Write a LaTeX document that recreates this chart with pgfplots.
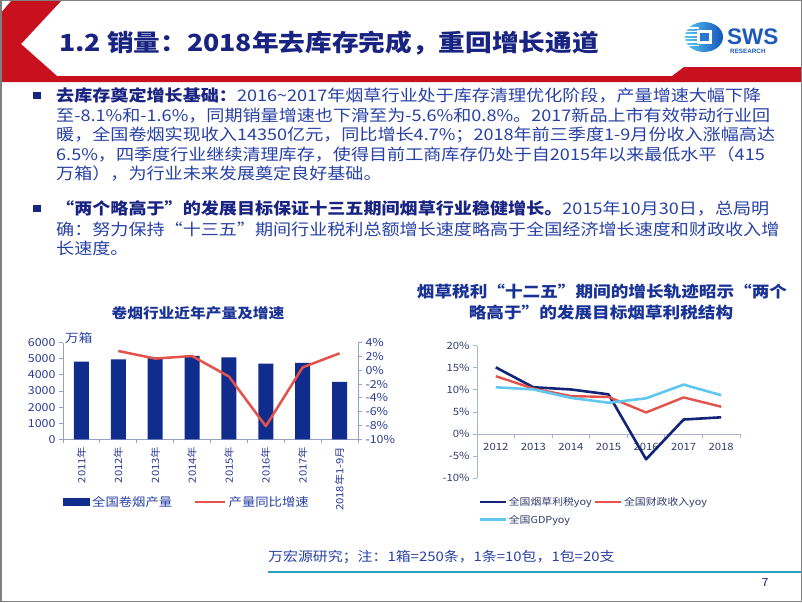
\documentclass[border=0pt]{standalone}
\usepackage{pgfplots}
\pgfplotsset{compat=1.18}
\usepackage{fontspec}
\setmainfont{Noto Sans CJK SC}[FakeStretch=1.13]
\newfontfamily\logofont{Liberation Sans}
\definecolor{navy}{RGB}{25,35,130}
\definecolor{bodyblue}{RGB}{40,65,165}
\definecolor{titleblue}{RGB}{25,50,150}
\definecolor{barnavy}{RGB}{16,44,140}
\definecolor{linered}{RGB}{228,82,76}
\definecolor{lightblue}{RGB}{96,200,240}
\definecolor{darknavy}{RGB}{18,36,120}
\definecolor{axisgray}{RGB}{150,162,200}
\definecolor{axisgrayR}{RGB}{170,180,210}
\definecolor{ticktext}{RGB}{45,60,150}
\definecolor{ticktextR}{RGB}{50,60,110}
\definecolor{headred}{RGB}{200,16,30}
\definecolor{footcyan}{RGB}{40,160,200}
\definecolor{logoblue}{RGB}{30,90,185}
\definecolor{logocyan}{RGB}{90,200,245}
\definecolor{logodark}{RGB}{20,85,185}
\definecolor{logomid}{RGB}{40,120,210}
\pgfplotsset{
  linelegend/.style={legend image code/.code={\draw[##1] (0pt,0pt) -- (#1,0pt);}},
  barlegend/.style={legend image code/.code={\fill[barnavy] (0pt,-4pt) rectangle (27pt,4pt);}},
}
\begin{document}
\begin{tikzpicture}
\begin{scope}[x=1pt,y=-1pt]
\useasboundingbox (0,0) rectangle (802,602);
\fill[white] (0,0) rectangle (802,602);
% header
\fill[headred] (12,0) -- (62,0) -- (21,44) -- (57,76) -- (672,76) -- (684,67) -- (802,67) -- (802,82) -- (0,82) -- (0,14) -- cycle;
\node[anchor=west, inner sep=0, text=navy, font=\fontsize{23.6}{24}\selectfont\bfseries] at (59,43) {1.2 销量：2018年去库存完成，重回增长通道};
% logo
\shade[left color=logocyan, right color=logodark] (704,37) ellipse (19 and 15);
\foreach \yy in {28,31.5,35,38.5,42,45.5} {\draw[white, line width=1.1pt] (685,\yy) -- (699,\yy);}
\fill[white] (697,30) rectangle (712,44);
\fill[logomid] (700,33) rectangle (709,41);
\node[anchor=west, inner sep=0, text=logoblue, font=\logofont\bfseries\fontsize{22.5}{22.5}\selectfont] at (727,37) {SWS};
\node[anchor=west, inner sep=0, text=logoblue, font=\logofont\bfseries\fontsize{6.3}{6.3}\selectfont] at (730,51) {RESEARCH};
% body text
\tikzset{body/.style={anchor=west, inner sep=0, text=bodyblue, font=\fontsize{16}{16}\selectfont}}
\fill[navy] (33,91.5) rectangle (41,98.5);
\fill[navy] (33,205) rectangle (41,212);
\node[body] at (56,95) {{\bfseries\color{navy}去库存奠定增长基础：}2016\textasciitilde2017年烟草行业处于库存清理优化阶段，产量增速大幅下降};
\node[body] at (56,115.5) {至-8.1\%和-1.6\%，同期销量增速也下滑至为-5.6\%和0.8\%。2017新品上市有效带动行业回};
\node[body] at (56,135) {暖，全国卷烟实现收入14350亿元，同比增长4.7\%；2018年前三季度1-9月份收入涨幅高达};
\node[body] at (56,154.5) {6.5\%，四季度行业继续清理库存，使得目前工商库存仍处于自2015年以来最低水平（415};
\node[body] at (56,174) {万箱），为行业未来发展奠定良好基础。};
\node[body] at (56,208.5) {{\bfseries\color{navy}“两个略高于”的发展目标保证十三五期间烟草行业稳健增长。}2015年10月30日，总局明};
\node[body] at (56,229) {确：努力保持“十三五”期间行业税利总额增长速度略高于全国经济增长速度和财政收入增};
\node[body] at (56,248.5) {长速度。};
% chart titles
\node[inner sep=0, text=titleblue, font=\fontsize{13.9}{14}\selectfont\bfseries] at (198,313) {卷烟行业近年产量及增速};
\node[inner sep=0, text=titleblue, font=\fontsize{15.6}{16}\selectfont\bfseries] at (602,292) {烟草税利“十二五”期间的增长轨迹昭示“两个};
\node[inner sep=0, text=titleblue, font=\fontsize{15.6}{16}\selectfont\bfseries] at (601,313) {略高于”的发展目标烟草利税结构};
\node[anchor=west, inner sep=0, text=bodyblue, font=\fontsize{12}{12}\selectfont] at (65,338) {万箱};
% footer
\node[anchor=west, inner sep=0, text=bodyblue, font=\fontsize{13.2}{13.2}\selectfont] at (268,557) {万宏源研究；注：1箱=250条，1条=10包，1包=20支};
\draw[footcyan, line width=2pt] (268,572) -- (802,572);
\node[inner sep=0, text=navy, font=\fontsize{11}{11}\selectfont] at (765,583) {7};
\draw[gray, line width=1.5pt] (0.75,0.75) rectangle (801.25,601.25);
\end{scope}

% left chart: bars
\begin{axis}[
  at={(63pt,-439.3pt)}, anchor=south west,
  scale only axis, width=295pt, height=96.6pt,
  xmin=-0.5, xmax=7.5, ymin=0, ymax=6000,
  ytick={0,1000,...,6000}, scaled y ticks=false,
  xtick={0,...,7},
  xticklabels={2011年,2012年,2013年,2014年,2015年,2016年,2017年,2018年1-9月},
  minor xtick={-0.5,0.5,...,7.5},
  axis y line*=left, axis x line*=bottom,
  axis line style={axisgray, line width=0.9pt, -},
  tick style={axisgray, line width=0.9pt},
  major x tick style={draw=none},
  tick align=outside, major tick length=4pt, minor tick length=4pt,
  tick label style={font=\fontsize{11}{11}\selectfont, text=ticktext},
  xticklabel style={rotate=90, anchor=east, font=\fontsize{10}{10}\selectfont},
  /pgf/number format/assume math mode=true,
  /pgf/number format/1000 sep={},
  legend columns=2, legend cell align=left,
  legend style={at={(0,-0.649)}, anchor=west, draw=none, fill=none, inner sep=0pt,
    font=\fontsize{11.8}{12}\selectfont, text=bodyblue,
    /tikz/every even column/.append style={column sep=20pt}},
]
\addplot[ybar, bar width=15pt, fill=barnavy, draw=none, barlegend] coordinates {
(0,4820) (1,4970) (2,5090) (3,5175) (4,5090) (5,4700) (6,4740) (7,3560)};
\addlegendentry{全国卷烟产量}
\addlegendimage{linered, line width=2.5pt, linelegend=30pt}
\addlegendentry{产量同比增速}
\end{axis}

% left chart: growth line
\begin{axis}[
  at={(63pt,-439.3pt)}, anchor=south west,
  scale only axis, width=295pt, height=96.6pt,
  xmin=-0.5, xmax=7.5, ymin=-10, ymax=4,
  ytick={-10,-8,...,4},
  axis y line*=right, axis x line=none,
  axis line style={axisgray, line width=0.9pt, -},
  tick style={axisgray, line width=0.9pt},
  tick align=outside, major tick length=4pt,
  yticklabel={\pgfmathprintnumber{\tick}\%},
  tick label style={font=\fontsize{11}{11}\selectfont, text=ticktext},
  /pgf/number format/assume math mode=true,
]
\addplot[linered, line width=2.5pt, line join=round] coordinates {
(1,2.8) (2,1.7) (3,2.07) (4,-0.9) (5,-8.1) (6,0.43) (7,2.46)};
\end{axis}

% right chart
\begin{axis}[
  at={(477pt,-478.3pt)}, anchor=south west,
  scale only axis, width=263pt, height=132.6pt,
  xmin=-0.5, xmax=6.5, ymin=-10, ymax=20,
  ytick={-10,-5,...,20},
  xtick={0,...,6},
  xticklabels={2012,2013,2014,2015,2016,2017,2018},
  minor xtick={-0.5,0.5,...,6.5},
  axis y line*=left, axis x line*=middle,
  axis line style={axisgrayR, line width=0.9pt, -},
  tick style={axisgrayR, line width=0.9pt},
  major x tick style={draw=none},
  tick align=outside, major tick length=4pt, minor tick length=4pt,
  yticklabel={\pgfmathprintnumber{\tick}\%},
  tick label style={font=\fontsize{10}{10}\selectfont, text=ticktextR},
  xticklabel style={yshift=-2pt},
  /pgf/number format/assume math mode=true,
  legend columns=2, legend cell align=left,
  legend style={at={(0.004,-0.126)}, anchor=north west, draw=none, fill=none, inner sep=0pt,
    font=\fontsize{9.6}{10}\selectfont, text=ticktextR, row sep=4pt},
]
\addplot[darknavy, line width=2.6pt, line join=round, linelegend=26pt] coordinates {
(0,15.1) (1,10.6) (2,10.1) (3,9.0) (4,-5.7) (5,3.3) (6,3.8)};
\addlegendentry{全国烟草利税yoy}
\addplot[linered, line width=2.4pt, line join=round, linelegend=26pt] coordinates {
(0,13.1) (1,10.3) (2,8.6) (3,8.4) (4,4.9) (5,8.3) (6,6.2)};
\addlegendentry{全国财政收入yoy}
\addplot[lightblue, line width=2.6pt, line join=round, linelegend=26pt] coordinates {
(0,10.6) (1,10.1) (2,8.2) (3,7.1) (4,8.1) (5,11.2) (6,8.8)};
\addlegendentry{全国GDPyoy}
\end{axis}
\end{tikzpicture}
\end{document}
